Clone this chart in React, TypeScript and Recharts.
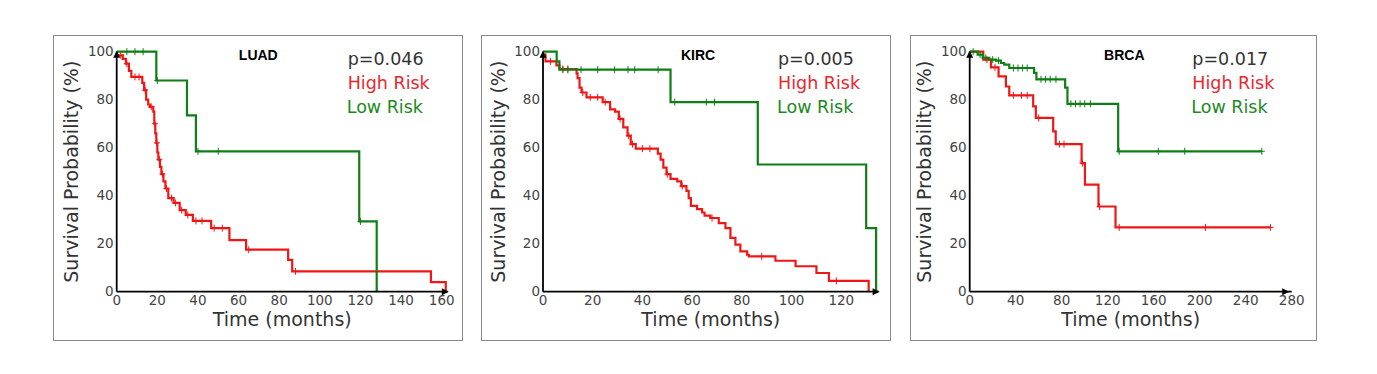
import React from "react";
import { LineChart, Line, XAxis, YAxis, ReferenceDot } from "recharts";

// [time (months), survival (%), censored?]
type Pt = [number, number, number?];

const yTicks = [0, 20, 40, 60, 80, 100];
const luadTicks = [0, 20, 40, 60, 80, 100, 120, 140, 160];
const kircTicks = [0, 20, 40, 60, 80, 100, 120];
const brcaTicks = [0, 40, 80, 120, 160, 200, 240, 280];

const luadHigh: Pt[] = [
  [0, 98.5], [2, 98.5, 1], [3, 97], [4.5, 95], [5, 95, 1], [6, 92], [7.2, 89.5], [9, 89.5, 1],
  [11, 89.5, 1], [12.6, 87], [13.5, 84], [14, 84, 1], [14.5, 80], [15.5, 78], [16.3, 77],
  [17, 77, 1], [18, 75], [18.5, 70], [18.8, 70, 1], [19, 66], [19.5, 62], [19.8, 62, 1],
  [20, 58], [20.5, 55], [21, 55, 1], [21.3, 52], [22, 49], [22.5, 49, 1], [23, 46], [24, 43],
  [24.5, 43, 1], [25.4, 39], [27, 39, 1], [28, 37], [29, 37, 1], [31, 34], [32, 34, 1],
  [34, 32], [35, 32, 1], [37.5, 29.5], [39, 29.5, 1], [42, 29.5, 1], [46.5, 26.5],
  [48, 26.5, 1], [52, 26.5, 1], [55.5, 21.5], [63.7, 17.5], [65, 17.5, 1], [84.4, 13.3],
  [86.4, 8.5], [88, 8.5, 1], [154.7, 4], [162, 0],
];
const luadLow: Pt[] = [
  [0, 100], [5, 100, 1], [9, 100, 1], [13, 100, 1], [19.5, 88], [20, 88, 1], [34.6, 73.5],
  [39, 58.5], [40, 58.5, 1], [50, 58.5, 1], [119.4, 29.3], [120, 29.3, 1], [128, 0],
];

const kircHigh: Pt[] = [
  [0, 98.8], [1, 96], [3, 96, 1], [5.4, 94.3], [6.6, 92.8], [8, 92.8, 1], [10, 92.8, 1],
  [13.5, 91], [13.9, 89], [14.7, 85], [15.5, 83], [16, 83, 1], [17.5, 81], [19, 81, 1],
  [22, 81, 1], [24, 79], [25, 79, 1], [27, 76], [29, 75], [30.5, 72], [31, 72, 1],
  [32.3, 68.5], [34, 65], [34.5, 65, 1], [35.3, 61.5], [36, 61.5, 1], [37.3, 59.6],
  [40, 59.6, 1], [43, 59.6, 1], [46.2, 57.5], [47.3, 55], [48.4, 51.7], [49.7, 49],
  [50, 49, 1], [51.3, 47], [54, 46], [55.6, 44], [56, 44, 1], [57.7, 42], [58.6, 39],
  [59.5, 35.8], [62, 34.4], [64, 33], [65, 31.7], [67.3, 30.7], [68, 30.7, 1], [70.7, 28.6],
  [73.4, 26.5], [75.4, 22.4], [77.4, 19.6], [79.4, 16.8], [82.1, 15.4], [82.8, 14.7],
  [88, 14.7, 1], [93.5, 12.9], [101.6, 10.6], [110, 7.8], [115, 4.5], [118, 4.5, 1], [131, 0],
];
const kircLow: Pt[] = [
  [0, 100], [5.5, 96], [6.6, 92.5], [8, 92.5, 1], [10, 92.5, 1], [15.3, 92.5, 1],
  [22, 92.5, 1], [28.8, 92.5, 1], [34.2, 92.5, 1], [36.9, 92.5, 1], [46.3, 92.5, 1],
  [51.3, 79], [53, 79, 1], [65.7, 79, 1], [69, 79, 1], [86.4, 53], [130, 26.5], [134, 0],
];

const brcaHigh: Pt[] = [
  [0, 100], [11.8, 96.7], [15, 96.7, 1], [18.5, 93.5], [22, 93.5, 1], [25.1, 89.7],
  [31.5, 85.5], [34.4, 81.8], [38, 81.8, 1], [45, 81.8, 1], [50, 81.8, 1], [55.2, 77.2],
  [57.5, 72.4], [60, 72.4, 1], [72.6, 66.8], [74.8, 61.5], [78, 61.5, 1], [82, 61.5, 1],
  [97.3, 53.6], [98, 53.6, 1], [100.2, 44.6], [112, 35.5], [113, 35.5, 1], [126.8, 26.8],
  [130, 26.8, 1], [205, 26.8, 1], [261.5, 26.8, 1],
];
const brcaLow: Pt[] = [
  [0, 100], [3, 100, 1], [6.9, 98.8], [9, 98.8, 1], [11.3, 97.4], [14, 97.4, 1], [17, 96.7],
  [20, 96.7, 1], [22.8, 96.3], [25, 96.3, 1], [27.2, 95.3], [30, 94.6], [34.4, 93.2],
  [38, 93.2, 1], [42, 93.2, 1], [46, 93.2, 1], [50, 93.2, 1], [56, 91.2], [58, 88.5],
  [62, 88.5, 1], [66, 88.5, 1], [70, 88.5, 1], [75, 88.5, 1], [83, 85], [85, 78.3],
  [88, 78.3, 1], [92, 78.3, 1], [96, 78.3, 1], [100, 78.3, 1], [105, 78.3, 1], [129.1, 58.5],
  [130, 58.5, 1], [164, 58.5, 1], [187, 58.5, 1], [254, 58.5, 1],
];

const RED = "#f01616";
const GREEN = "#0e7f14";
const FONT = "DejaVu Sans, sans-serif";
const TOP = 35;
const H = 306;

const toRows = (pts: Pt[]) => pts.map(([t, s, c]) => ({ t, s, c: !!c }));

// "+" marks on censored observations
const censor = (color: string) => (p: any) => {
  const { cx, cy, payload, index } = p;
  if (!payload?.c) return <g key={`n${index}`} />;
  return (
    <path
      key={`c${index}`}
      d={`M${cx - 3},${cy}H${cx + 3}M${cx},${cy - 3.5}V${cy + 3.5}`}
      stroke={color}
      strokeWidth={1}
      fill="none"
    />
  );
};

const arrowRight = (p: any) => (
  <polygon points={`${p.cx + 1},${p.cy} ${p.cx - 6},${p.cy - 3.5} ${p.cx - 6},${p.cy + 3.5}`} fill="#000" />
);
const arrowUp = (p: any) => (
  <polygon points={`${p.cx},${p.cy - 1} ${p.cx - 3.5},${p.cy + 6} ${p.cx + 3.5},${p.cy + 6}`} fill="#000" />
);

interface PanelProps {
  left: number;
  width: number;
  plotLeft: number;
  rightMargin: number;
  title: string;
  titleX: number;
  textX: number;
  pValue: string;
  high: Pt[];
  low: Pt[];
  xMax: number;
  arrowX: number;
  xTicks: number[];
  yLabelX: number;
}

function KMPanel(props: PanelProps) {
  const { left, width, plotLeft, rightMargin, title, titleX, textX, pValue, high, low, xMax, arrowX, xTicks, yLabelX } = props;
  const tick = { fontSize: 13.5, fontFamily: FONT, fill: "#444" };
  return (
    <>
      <div
        style={{
          position: "absolute",
          left,
          top: TOP,
          width,
          height: H,
          border: "1px solid #888",
          boxSizing: "border-box",
        }}
      />
      <div style={{ position: "absolute", left, top: TOP, width, height: H }}>
        <LineChart width={width} height={H} margin={{ top: 16.7, right: rightMargin, bottom: 0, left: 0 }}>
          <XAxis
            type="number"
            dataKey="t"
            domain={[0, xMax]}
            ticks={xTicks}
            allowDataOverflow
            height={49.3}
            tickLine={false}
            tickSize={4}
            tickMargin={0}
            tick={tick}
            axisLine={{ stroke: "#000", strokeWidth: 1.8 }}
            label={{ value: "Time (months)", position: "insideBottom", offset: 15, fontSize: 19, fontFamily: FONT, fill: "#333" }}
          />
          <YAxis
            type="number"
            dataKey="s"
            domain={[0, 100]}
            ticks={yTicks}
            width={plotLeft}
            tickLine={false}
            tickSize={3}
            tickMargin={0}
            tick={tick}
            axisLine={{ stroke: "#000", strokeWidth: 1.8 }}
            label={{
              value: "Survival Probability (%)",
              angle: -90,
              position: "insideLeft",
              offset: yLabelX,
              fontSize: 19,
              fontFamily: FONT,
              fill: "#333",
              style: { textAnchor: "middle" },
            }}
          />
          <Line
            data={toRows(high)}
            dataKey="s"
            type="stepAfter"
            stroke={RED}
            strokeWidth={2.2}
            dot={censor(RED)}
            activeDot={false}
            isAnimationActive={false}
          />
          <Line
            data={toRows(low)}
            dataKey="s"
            type="stepAfter"
            stroke={GREEN}
            strokeWidth={2.2}
            dot={censor(GREEN)}
            activeDot={false}
            isAnimationActive={false}
          />
          <ReferenceDot x={arrowX} y={0} r={0} ifOverflow="visible" shape={arrowRight} />
          <ReferenceDot x={0} y={100} r={0} ifOverflow="visible" shape={arrowUp} />
        </LineChart>
      </div>
      <svg
        width={width}
        height={H}
        style={{ position: "absolute", left, top: TOP, pointerEvents: "none" }}
      >
        <text x={titleX} y={24.7} textAnchor="middle" fontFamily="Liberation Sans, Arial, sans-serif" fontWeight="bold" fontSize={14} fill="#000">
          {title}
        </text>
        <text x={textX} y={29.7} fontFamily={FONT} fontSize={17.5} fill="#333">
          {pValue}
        </text>
        <text x={textX} y={54.1} fontFamily={FONT} fontSize={17.5} fill="#e8262e">
          High Risk
        </text>
        <text x={textX - 1} y={78.1} fontFamily={FONT} fontSize={17.5} fill="#1d8a1d">
          Low Risk
        </text>
      </svg>
    </>
  );
}

export default function App() {
  return (
    <div style={{ position: "absolute", left: 0, top: 0, width: 1377, height: 374, background: "#fff" }}>
      <KMPanel
        left={53}
        width={410}
        plotLeft={63.7}
        rightMargin={15.2}
        title="LUAD"
        titleX={205.3}
        textX={294.7}
        pValue="p=0.046"
        high={luadHigh}
        low={luadLow}
        xMax={163}
        arrowX={163}
        xTicks={luadTicks}
        yLabelX={18.7}
      />
      <KMPanel
        left={481}
        width={410}
        plotLeft={62}
        rightMargin={12.4}
        title="KIRC"
        titleX={217}
        textX={297}
        pValue="p=0.005"
        high={kircHigh}
        low={kircLow}
        xMax={135}
        arrowX={135}
        xTicks={kircTicks}
        yLabelX={17.7}
      />
      <KMPanel
        left={910}
        width={407}
        plotLeft={59.7}
        rightMargin={25.3}
        title="BRCA"
        titleX={214.3}
        textX={282.3}
        pValue="p=0.017"
        high={brcaHigh}
        low={brcaLow}
        xMax={280}
        arrowX={277}
        xTicks={brcaTicks}
        yLabelX={14.7}
      />
    </div>
  );
}
